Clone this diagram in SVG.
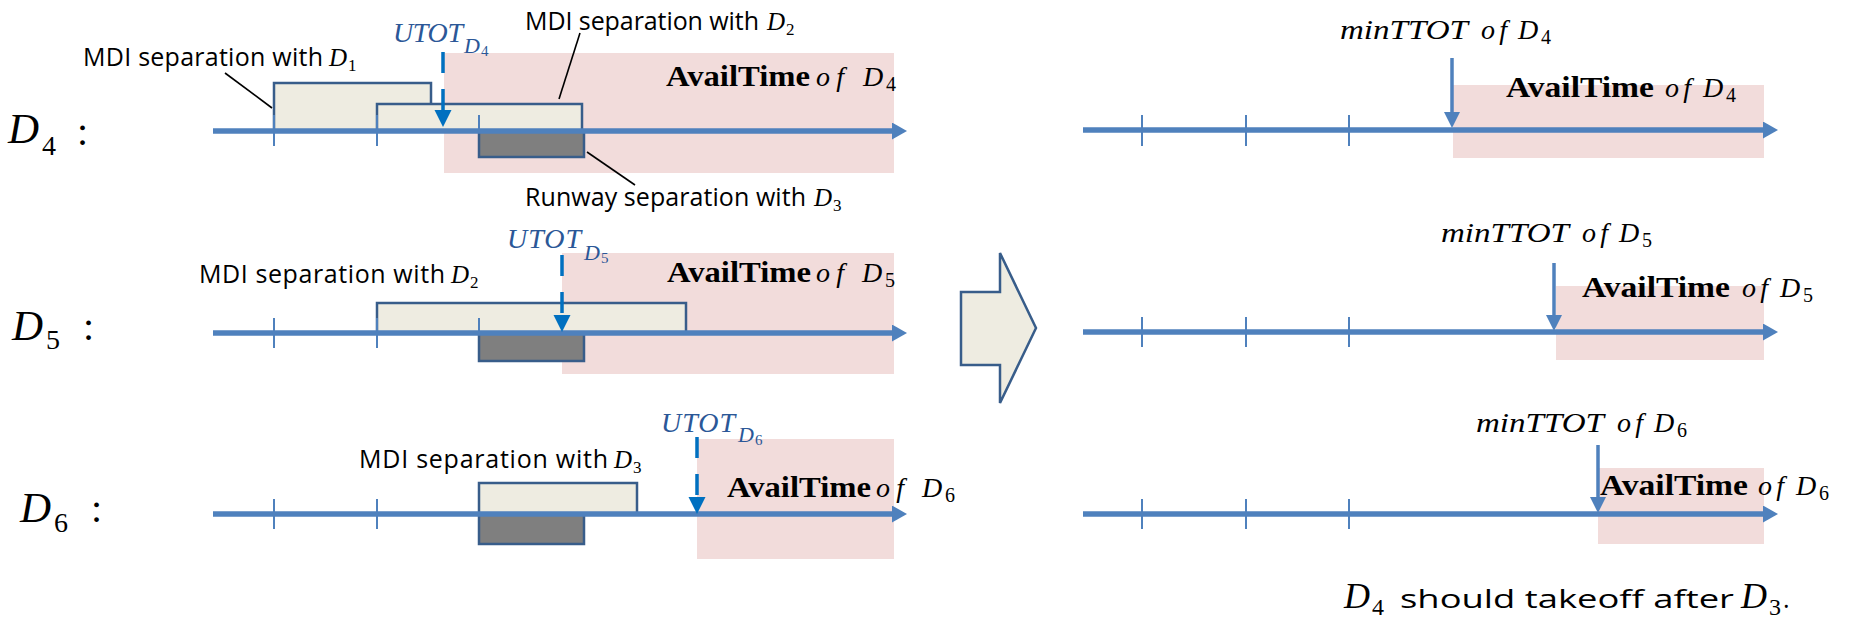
<svg xmlns="http://www.w3.org/2000/svg" width="1860" height="620" viewBox="0 0 1860 620">
  <defs>
    <style>
      .avail { fill: #f2dcdb; }
      .sep { fill: #eeece1; stroke: #385d8a; stroke-width: 2.5; }
      .rwy { fill: #7f7f7f; stroke: #385d8a; stroke-width: 2.5; }
      .axis { stroke: #4f81bd; stroke-width: 5.5; fill: none; }
      .tick { stroke: #4f81bd; stroke-width: 2; }
      .utot { stroke: #0070c0; stroke-width: 3.5; stroke-dasharray: 21 16; fill: none; }
      .ttot { stroke: #4f81bd; stroke-width: 3.5; fill: none; }
      .leader { stroke: #000; stroke-width: 1.6; }
      .txt { font-family: "Open Sans", "Liberation Sans", sans-serif; font-size: 25px; fill: #000; }
      .mi { font-family: "Liberation Serif", serif; font-style: italic; fill: #000; }
      .up { font-family: "Liberation Serif", serif; fill: #000; }
      .bf { font-family: "Liberation Serif", serif; font-weight: bold; font-size: 29px; fill: #000; }
      .blue { fill: #2b5797; }
      .row { font-size: 43px; }
    </style>
    <marker id="axisHead" markerUnits="userSpaceOnUse" markerWidth="16" markerHeight="18" refX="0" refY="8.5" orient="auto">
      <path d="M0,0 L15,8.5 L0,17 Z" fill="#4f81bd"/>
    </marker>
    <marker id="utotHead" markerUnits="userSpaceOnUse" markerWidth="18" markerHeight="18" refX="0" refY="8.5" orient="auto">
      <path d="M0,0 L17,8.5 L0,17 Z" fill="#0070c0"/>
    </marker>
    <marker id="ttotHead" markerUnits="userSpaceOnUse" markerWidth="18" markerHeight="18" refX="0" refY="8" orient="auto">
      <path d="M0,0 L16,8 L0,16 Z" fill="#4f81bd"/>
    </marker>
  </defs>

  <!-- ===== Left panel: D4 ===== -->
  <g id="row-d4-left">
    <rect class="avail" x="444" y="53" width="450" height="120"/>
    <rect class="sep" x="274" y="83" width="157" height="48"/>
    <rect class="sep" x="377" y="104" width="205" height="27"/>
    <line class="tick" x1="274" y1="115" x2="274" y2="146"/>
    <line class="tick" x1="377" y1="115" x2="377" y2="146"/>
    <line class="tick" x1="479" y1="115" x2="479" y2="146"/>
    <rect class="rwy" x="479" y="131" width="105" height="26"/>
    <line class="axis" x1="213" y1="131" x2="892" y2="131" marker-end="url(#axisHead)"/>
    <text class="mi row" x="8" y="143">D</text>
    <text class="up" x="42" y="155" font-size="28">4</text>
    <text class="up" x="77" y="145" font-size="40">:</text>
    <text class="txt" x="83" y="66" textLength="240">MDI separation with</text>
    <text class="mi" x="329" y="66" font-size="25">D</text>
    <text class="up" x="348" y="71" font-size="17">1</text>
    <text class="txt" x="525" y="30" textLength="234">MDI separation with</text>
    <text class="mi" x="767" y="30" font-size="25">D</text>
    <text class="up" x="786" y="35" font-size="17">2</text>
    <text class="txt" x="525" y="206" textLength="281">Runway separation with</text>
    <text class="mi" x="814" y="206" font-size="25">D</text>
    <text class="up" x="833" y="211" font-size="17">3</text>
    <text class="mi blue" x="393" y="42" font-size="28" textLength="70">UTOT</text>
    <text class="mi blue" x="464" y="53" font-size="22">D</text>
    <text class="up blue" x="481" y="56" font-size="15">4</text>
    <text class="bf" x="666" y="86" textLength="144" lengthAdjust="spacingAndGlyphs">AvailTime</text>
    <text class="mi" x="816" y="86" font-size="28" textLength="28">of</text>
    <text class="mi" x="863" y="86" font-size="28">D</text>
    <text class="up" x="886" y="91" font-size="20">4</text>
  </g>

  <!-- ===== Left panel: D5 ===== -->
  <g id="row-d5-left">
    <rect class="avail" x="562" y="253" width="332" height="121"/>
    <rect class="sep" x="377" y="303" width="309" height="30"/>
    <line class="tick" x1="274" y1="318" x2="274" y2="348"/>
    <line class="tick" x1="377" y1="318" x2="377" y2="348"/>
    <line class="tick" x1="479" y1="318" x2="479" y2="348"/>
    <rect class="rwy" x="479" y="333" width="105" height="28"/>
    <line class="axis" x1="213" y1="333" x2="892" y2="333" marker-end="url(#axisHead)"/>
    <text class="mi row" x="12" y="340">D</text>
    <text class="up" x="46" y="349" font-size="28">5</text>
    <text class="up" x="83" y="340" font-size="40">:</text>
    <text class="txt" x="199" y="283" textLength="246">MDI separation with</text>
    <text class="mi" x="451" y="283" font-size="25">D</text>
    <text class="up" x="470" y="288" font-size="17">2</text>
    <text class="mi blue" x="507" y="248" font-size="28" textLength="74">UTOT</text>
    <text class="mi blue" x="584" y="260" font-size="22">D</text>
    <text class="up blue" x="601" y="263" font-size="15">5</text>
    <text class="bf" x="667" y="282" textLength="144" lengthAdjust="spacingAndGlyphs">AvailTime</text>
    <text class="mi" x="816" y="282" font-size="28" textLength="28">of</text>
    <text class="mi" x="862" y="282" font-size="28">D</text>
    <text class="up" x="885" y="287" font-size="20">5</text>
  </g>

  <!-- ===== Left panel: D6 ===== -->
  <g id="row-d6-left">
    <rect class="avail" x="697" y="439" width="197" height="120"/>
    <rect class="sep" x="479" y="483" width="158" height="31"/>
    <line class="tick" x1="274" y1="499" x2="274" y2="529"/>
    <line class="tick" x1="377" y1="499" x2="377" y2="529"/>
    <rect class="rwy" x="479" y="514" width="105" height="30"/>
    <line class="axis" x1="213" y1="514" x2="892" y2="514" marker-end="url(#axisHead)"/>
    <text class="mi row" x="20" y="522">D</text>
    <text class="up" x="54" y="532" font-size="28">6</text>
    <text class="up" x="91" y="522" font-size="40">:</text>
    <text class="txt" x="359" y="468" textLength="249">MDI separation with</text>
    <text class="mi" x="614" y="468" font-size="25">D</text>
    <text class="up" x="633" y="473" font-size="17">3</text>
    <text class="mi blue" x="661" y="432" font-size="28" textLength="74">UTOT</text>
    <text class="mi blue" x="738" y="442" font-size="22">D</text>
    <text class="up blue" x="755" y="445" font-size="15">6</text>
    <text class="bf" x="727" y="497" textLength="144" lengthAdjust="spacingAndGlyphs">AvailTime</text>
    <text class="mi" x="876" y="497" font-size="28" textLength="28">of</text>
    <text class="mi" x="922" y="497" font-size="28">D</text>
    <text class="up" x="945" y="502" font-size="20">6</text>
  </g>

  <!-- ===== Transition arrow ===== -->
  <g id="transition">
    <polygon class="sep" points="961,292 1000,292 1000,253 1036,328 1000,403 1000,365 961,365"/>
  </g>

  <!-- ===== Right panel: D4 ===== -->
  <g id="row-d4-right">
    <rect class="avail" x="1453" y="85" width="311" height="73"/>
    <line class="tick" x1="1142" y1="115" x2="1142" y2="146"/>
    <line class="tick" x1="1246" y1="115" x2="1246" y2="146"/>
    <line class="tick" x1="1349" y1="115" x2="1349" y2="146"/>
    <line class="axis" x1="1083" y1="130" x2="1763" y2="130" marker-end="url(#axisHead)"/>
    <text class="mi" x="1340" y="39" font-size="28" textLength="128" lengthAdjust="spacingAndGlyphs">minTTOT</text>
    <text class="mi" x="1481" y="39" font-size="28" textLength="26">of</text>
    <text class="mi" x="1518" y="39" font-size="28">D</text>
    <text class="up" x="1541" y="44" font-size="20">4</text>
    <text class="bf" x="1506" y="97" textLength="148" lengthAdjust="spacingAndGlyphs">AvailTime</text>
    <text class="mi" x="1665" y="97" font-size="28" textLength="26">of</text>
    <text class="mi" x="1703" y="97" font-size="28">D</text>
    <text class="up" x="1726" y="102" font-size="20">4</text>
  </g>

  <!-- ===== Right panel: D5 ===== -->
  <g id="row-d5-right">
    <rect class="avail" x="1556" y="286" width="208" height="74"/>
    <line class="tick" x1="1142" y1="317" x2="1142" y2="347"/>
    <line class="tick" x1="1246" y1="317" x2="1246" y2="347"/>
    <line class="tick" x1="1349" y1="317" x2="1349" y2="347"/>
    <line class="axis" x1="1083" y1="332" x2="1763" y2="332" marker-end="url(#axisHead)"/>
    <text class="mi" x="1441" y="242" font-size="28" textLength="128" lengthAdjust="spacingAndGlyphs">minTTOT</text>
    <text class="mi" x="1582" y="242" font-size="28" textLength="26">of</text>
    <text class="mi" x="1619" y="242" font-size="28">D</text>
    <text class="up" x="1642" y="247" font-size="20">5</text>
    <text class="bf" x="1582" y="297" textLength="148" lengthAdjust="spacingAndGlyphs">AvailTime</text>
    <text class="mi" x="1742" y="297" font-size="28" textLength="26">of</text>
    <text class="mi" x="1780" y="297" font-size="28">D</text>
    <text class="up" x="1803" y="302" font-size="20">5</text>
  </g>

  <!-- ===== Right panel: D6 ===== -->
  <g id="row-d6-right">
    <rect class="avail" x="1598" y="468" width="166" height="76"/>
    <line class="tick" x1="1142" y1="499" x2="1142" y2="529"/>
    <line class="tick" x1="1246" y1="499" x2="1246" y2="529"/>
    <line class="tick" x1="1349" y1="499" x2="1349" y2="529"/>
    <line class="axis" x1="1083" y1="514" x2="1763" y2="514" marker-end="url(#axisHead)"/>
    <text class="mi" x="1476" y="432" font-size="28" textLength="128" lengthAdjust="spacingAndGlyphs">minTTOT</text>
    <text class="mi" x="1617" y="432" font-size="28" textLength="26">of</text>
    <text class="mi" x="1654" y="432" font-size="28">D</text>
    <text class="up" x="1677" y="437" font-size="20">6</text>
    <text class="bf" x="1600" y="495" textLength="148" lengthAdjust="spacingAndGlyphs">AvailTime</text>
    <text class="mi" x="1758" y="495" font-size="28" textLength="26">of</text>
    <text class="mi" x="1796" y="495" font-size="28">D</text>
    <text class="up" x="1819" y="500" font-size="20">6</text>
  </g>

  <!-- ===== Conclusion ===== -->
  <g id="conclusion">
    <text class="mi" x="1344" y="608" font-size="36">D</text>
    <text class="up" x="1372" y="615" font-size="24">4</text>
    <text class="txt" x="1400" y="608" font-size="32" textLength="334" lengthAdjust="spacingAndGlyphs">should takeoff after</text>
    <text class="mi" x="1741" y="608" font-size="36">D</text>
    <text class="up" x="1769" y="615" font-size="24">3</text>
    <text class="txt" x="1783" y="608" font-size="32">.</text>
  </g>

  <!-- ===== Connectors: leader lines and time markers ===== -->
  <g id="connectors">
    <line class="leader" x1="225" y1="73" x2="272" y2="108"/>
    <line class="leader" x1="580" y1="33" x2="559" y2="99"/>
    <line class="leader" x1="587" y1="152" x2="635" y2="185"/>
    <line class="utot" x1="443" y1="52" x2="443" y2="110" marker-end="url(#utotHead)"/>
    <line class="utot" x1="562" y1="255" x2="562" y2="315" marker-end="url(#utotHead)"/>
    <line class="utot" x1="697" y1="437" x2="697" y2="497" marker-end="url(#utotHead)"/>
    <line class="ttot" x1="1452" y1="58" x2="1452" y2="112" marker-end="url(#ttotHead)"/>
    <line class="ttot" x1="1554" y1="263" x2="1554" y2="315" marker-end="url(#ttotHead)"/>
    <line class="ttot" x1="1598" y1="445" x2="1598" y2="497" marker-end="url(#ttotHead)"/>
  </g>
</svg>
